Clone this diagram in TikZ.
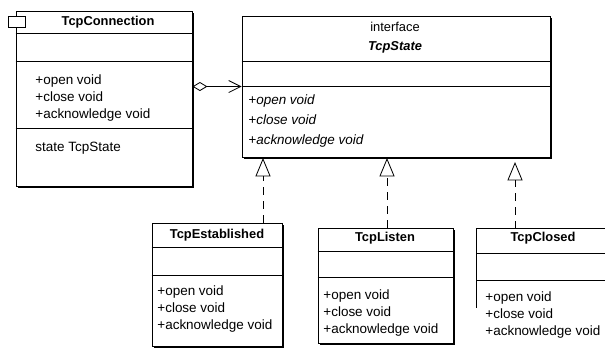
\documentclass[tikz,border=0pt]{standalone}
\usepackage{fontspec}
\setmainfont{Liberation Sans}
\usetikzlibrary{fit,shadows,arrows.meta}
\begin{document}
\begin{tikzpicture}[x=0.3mm,y=-0.3mm,line width=0.7pt,
    classbox/.style={draw,fill=white,inner sep=0pt,
        drop shadow={shadow xshift=0.5mm,shadow yshift=-0.5mm,fill=black,opacity=1}},
    title/.style={font=\fontsize{11}{13}\selectfont\bfseries},
    members/.style={anchor=north west,align=left,inner sep=0pt,font=\fontsize{11.5}{14.5}\selectfont},
    realize/.style={dash pattern=on 2.4mm off 1.8mm,-{Triangle[open,length=5.5mm,width=4.5mm]}},
    aggr/.style={{Diamond[open,length=4.5mm,width=2.7mm]}-{Straight Barb[length=3.6mm,width=3.6mm]}}]
            \useasboundingbox (0,0) rectangle (605,351);
            \clip (0,0) rectangle (605,351);
            % context class
            \node[classbox,fit={(16,11) (192,186)}] (conn) {};
            \draw (conn.west |- 0,33) -- (conn.east |- 0,33);
            \draw (conn.west |- 0,61) -- (conn.east |- 0,61);
            \draw (conn.west |- 0,128) -- (conn.east |- 0,128);
            \node[draw,fill=white,inner sep=0pt,fit={(8,16) (25,27)}] (tab) {};
            \node[title] (connname) at (108,22) {TcpConnection};
            \node[members] (connops) at (35,74) {+open void\\+close void\\+acknowledge void};
            \node[members] (connattr) at (35,142) {state TcpState};
            % state interface
            \node[classbox,fit={(242,16) (550,157)}] (state) {};
            \draw (state.west |- 0,61) -- (state.east |- 0,61);
            \draw (state.west |- 0,86) -- (state.east |- 0,86);
            \node[align=center,inner sep=0pt,font=\fontsize{11}{16}\selectfont] (statename) at (395,38) {interface\\\textbf{\textit{TcpState}}};
            \node[members,font=\fontsize{11.5}{17}\selectfont\itshape] (stateops) at (248,94) {+open void\\+close void\\+acknowledge void};
            % concrete states
            \node[classbox,fit={(152,223) (282,346)}] (est) {};
            \draw (est.west |- 0,247) -- (est.east |- 0,247);
            \draw (est.west |- 0,275) -- (est.east |- 0,275);
            \node[title] (estname) at (217,235) {TcpEstablished};
            \node[members] (estops) at (157,285) {+open void\\+close void\\+acknowledge void};
            \node[classbox,fit={(318,228) (453,343)}] (lis) {};
            \draw (lis.west |- 0,251) -- (lis.east |- 0,251);
            \draw (lis.west |- 0,277) -- (lis.east |- 0,277);
            \node[title] (lisname) at (385,238) {TcpListen};
            \node[members] (lisops) at (323,289) {+open void\\+close void\\+acknowledge void};
            \node[inner sep=0pt,fit={(477,229) (660,380)}] (closed) {};
            \draw (closed.north east) -- (closed.north west) -- (closed.west |- 0,308);
            \draw (closed.west |- 0,253) -- (closed.east |- 0,253);
            \draw (closed.west |- 0,280) -- (closed.east |- 0,280);
            \node[title] (closedname) at (543,238) {TcpClosed};
            \node[members] (closedops) at (485,291) {+open void\\+close void\\+acknowledge void};
            % relations
            \draw[aggr] (conn.east |- state.west) -- (state.west);
            \coordinate (t1) at (263,158);
            \coordinate (t2) at (387,158);
            \coordinate (t3) at (515,162);
            \draw[realize] (t1 |- est.north) -- (t1);
            \draw[realize] (t2 |- lis.north) -- (t2);
            \draw[realize] (t3 |- closed.north) -- (t3);
        \end{tikzpicture}
\end{document}
